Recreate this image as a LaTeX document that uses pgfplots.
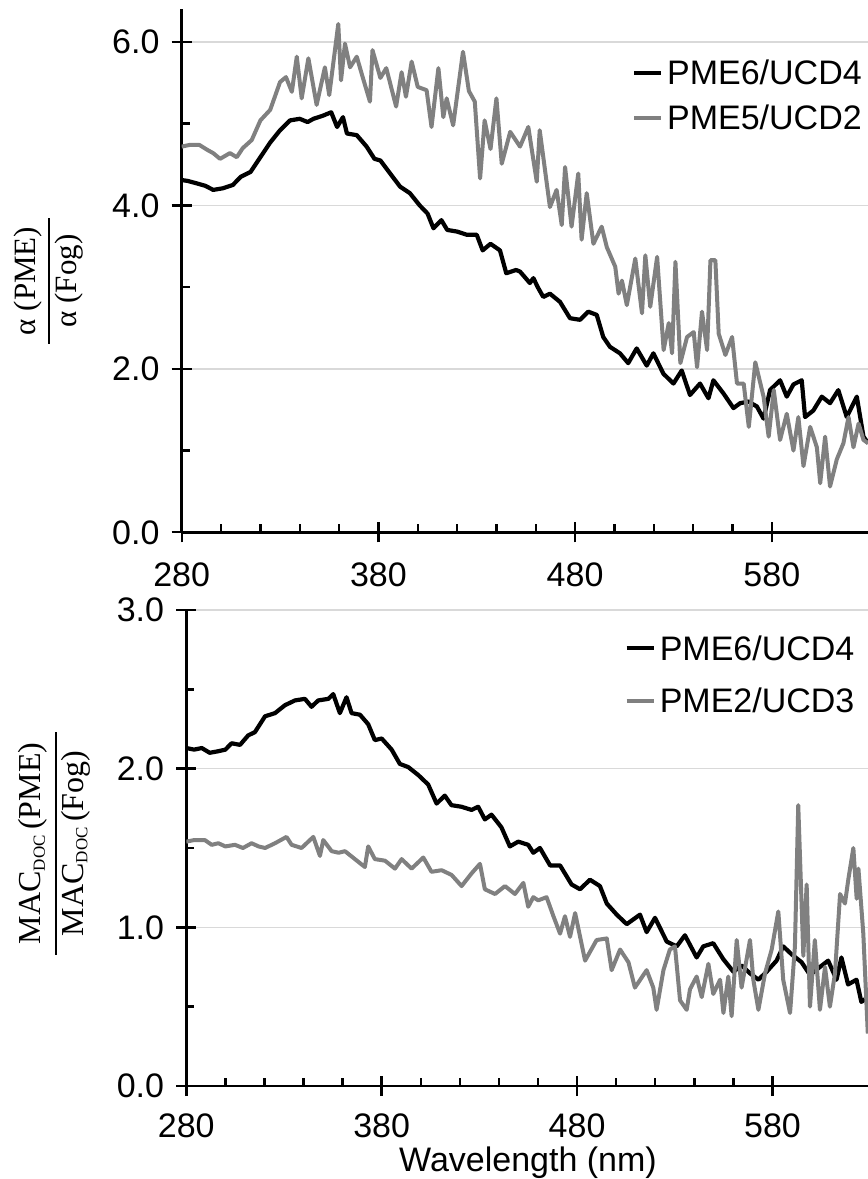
\documentclass[border=0pt]{standalone}
\usepackage{pgfplots}
\pgfplotsset{compat=1.18}
\usepackage{fontspec}
\setmainfont{Liberation Sans}
\newfontfamily\serif{Liberation Serif}
\definecolor{dgray}{RGB}{128,128,128}
\definecolor{gridc}{RGB}{217,217,217}
\pgfplotsset{
 mystyle/.style={
  scale only axis,
  axis x line*=bottom, axis y line*=left,
  axis line style={-, line width=2.6pt},
  xmin=280, xmax=628.9,
  xtick={280,380,480,580}, minor x tick num=4,
  tick align=center,
  major tick length=20pt, minor tick length=8pt,
  every tick/.style={black, line width=2.4pt},
  minor x tick style={yshift=4pt},
  minor y tick style={xshift=4pt},
  ymajorgrids, grid style={gridc, line width=1.5pt},
  tick label style={font=\fontsize{34}{40}\selectfont, text height=24pt, text depth=0pt, inner sep=0pt},
  y tick label style={xshift=-12pt},
  /pgf/number format/assume math mode=true,
  y tick label style={/pgf/number format/fixed, /pgf/number format/fixed zerofill, /pgf/number format/precision=1},
  legend cell align=left,
  legend image code/.code={\draw (0pt,12pt) -- (27pt,12pt);},
 },
 blk/.style={black, line width=4.2pt, line join=round},
 gry/.style={dgray, line width=4pt, line join=round},
}
\begin{document}
\begin{tikzpicture}
\begin{axis}[mystyle, width=686.3pt, height=523pt, at={(181.7pt,646.7pt)}, anchor=south west,
  x tick label style={yshift=-20pt},
  ymin=0, ymax=6.4, ytick={0,2,4,6}, minor y tick num=1,
  legend style={at={(axis cs:508.9,5.77)}, anchor=north west, draw=none, fill=none, inner sep=0pt, outer sep=0pt, row sep=21pt, column sep=0pt,
    /tikz/every odd column/.append style={column sep=4pt},
    nodes={font=\fontsize{34}{40}\selectfont, text height=24pt, text depth=0pt, inner sep=0pt, anchor=base west}}]
\addplot[blk] coordinates {(280,4.31)(283,4.30)(287.6,4.27)(292,4.24)(296,4.19)(301,4.21)(306,4.25)(310,4.35)(315,4.41)(320,4.59)(325,4.77)(330,4.92)(335,5.04)(340,5.06)(344,5.02)(347,5.06)(352,5.10)(356,5.14)(359,4.96)(362,5.08)(364,4.88)(369,4.86)(374,4.72)(378,4.57)(381,4.55)(386,4.39)(391,4.23)(396,4.15)(401,4.00)(405,3.90)(408,3.72)(412,3.82)(415,3.70)(420,3.68)(425,3.64)(430,3.64)(433,3.45)(437,3.53)(441.8,3.45)(445,3.17)(450,3.21)(452,3.19)(457,3.05)(458.8,3.11)(461,3.00)(463.8,2.88)(467.2,2.92)(472.3,2.82)(477.4,2.62)(482.5,2.60)(486.7,2.70)(491,2.66)(494.3,2.39)(497.7,2.27)(502.8,2.19)(507,2.07)(511.3,2.25)(516.4,2.04)(519.8,2.19)(524.9,1.94)(530,1.82)(534.2,1.98)(538.4,1.68)(543.5,1.82)(547.8,1.64)(550.3,1.86)(555.4,1.70)(560.5,1.52)(563.9,1.58)(568.1,1.60)(572.4,1.54)(575.8,1.39)(579.1,1.74)(584.2,1.86)(587.6,1.66)(591,1.81)(595.2,1.86)(596.9,1.41)(601.1,1.49)(605.4,1.66)(609.6,1.58)(613.8,1.74)(618.1,1.41)(623.2,1.66)(626.6,1.17)(629,1.09)};
\addlegendentry{PME6/UCD4}
\addplot[gry] coordinates {(280,4.72)(284,4.74)(289,4.74)(293,4.68)(296,4.64)(299.5,4.57)(304.5,4.64)(308,4.59)(311,4.70)(315.6,4.80)(320,5.04)(325,5.17)(330,5.51)(333,5.57)(336,5.39)(338.5,5.82)(341,5.31)(344.4,5.80)(348.6,5.23)(352.8,5.69)(355,5.35)(359.6,6.22)(361,5.53)(363,5.98)(365.6,5.69)(369,5.82)(372,5.57)(375.7,5.27)(377,5.90)(381,5.56)(384,5.68)(389,5.21)(391.8,5.63)(394,5.33)(396.9,5.76)(400,5.45)(404.5,5.41)(407,4.96)(410.5,5.68)(413,5.08)(414.7,5.31)(418,4.98)(423,5.88)(426,5.40)(429,5.27)(431.7,4.33)(434,5.04)(437,4.69)(440,5.31)(442.7,4.51)(447,4.90)(452,4.72)(456.2,4.96)(460.5,4.29)(462,4.92)(467.2,3.98)(470.6,4.19)(473.2,3.76)(474.9,4.47)(478.2,3.74)(481.6,4.39)(483.3,3.58)(485.9,4.15)(489.3,3.53)(493.5,3.74)(496.1,3.49)(500.4,3.25)(502.1,2.92)(503.8,3.08)(506.3,2.78)(510.6,3.35)(514,2.68)(515.7,3.39)(518.2,2.76)(521.7,3.37)(525,2.23)(527.6,2.56)(529.3,2.19)(531,3.31)(533.5,2.07)(536.9,2.39)(540.3,2.45)(542,2.02)(544.5,2.70)(547.1,2.23)(548.8,3.33)(551.3,3.33)(553,2.43)(556.4,2.17)(559.8,2.39)(562.3,1.82)(565.7,1.82)(568.3,1.29)(571.6,2.08)(575.8,1.66)(578.4,1.17)(581,1.74)(584.2,1.13)(587.6,1.45)(591,1.00)(593.5,1.41)(596.1,0.81)(599.5,1.29)(602.9,1.04)(604.6,0.60)(607.1,1.17)(609.6,0.56)(613,0.89)(616.4,1.09)(619,1.41)(621.5,1.04)(624.1,1.33)(626.6,1.13)(629,1.09)};
\addlegendentry{PME5/UCD2}
\end{axis}
\begin{axis}[mystyle, width=681.7pt, height=476pt, at={(186.3pt,93pt)}, anchor=south west,
  x tick label style={yshift=-17pt},
  ymin=0, ymax=3, ytick={0,1,2,3}, minor y tick num=1,
  legend style={at={(axis cs:504.3,2.835)}, anchor=north west, draw=none, fill=none, inner sep=0pt, outer sep=0pt, row sep=28.6pt, column sep=0pt,
    /tikz/every odd column/.append style={column sep=4pt},
    nodes={font=\fontsize{34}{40}\selectfont, text height=24pt, text depth=0pt, inner sep=0pt, anchor=base west}}]
\addplot[blk] coordinates {(280,2.13)(284,2.12)(287.9,2.13)(292,2.10)(296.4,2.11)(300,2.12)(303.2,2.16)(307.5,2.15)(311.7,2.21)(315.1,2.23)(320.3,2.33)(325.4,2.35)(330.5,2.40)(335.6,2.43)(340.7,2.44)(344.1,2.39)(347.5,2.43)(352.7,2.44)(355.2,2.47)(358.6,2.35)(362,2.45)(364.6,2.35)(368.9,2.34)(373.1,2.28)(376.5,2.18)(380,2.19)(385.1,2.12)(389.3,2.03)(393.6,2.01)(398.7,1.96)(403.8,1.90)(408.1,1.78)(412.3,1.83)(415.7,1.77)(420.8,1.76)(426,1.74)(429.4,1.76)(432.8,1.68)(436.2,1.71)(441.3,1.63)(445.6,1.51)(449.9,1.54)(455,1.52)(457.6,1.47)(461,1.50)(466.2,1.39)(471.3,1.39)(477.2,1.27)(481.5,1.24)(486.6,1.30)(491.7,1.26)(495.2,1.15)(500.3,1.08)(505.4,1.02)(512.2,1.08)(515.6,0.97)(519.9,1.06)(525.9,0.91)(531,0.88)(535.2,0.95)(541.2,0.81)(544.6,0.88)(549.7,0.90)(554.8,0.80)(560,0.72)(564.2,0.76)(568.5,0.71)(572.8,0.67)(577,0.72)(582.1,0.79)(585.5,0.88)(589.8,0.83)(594.9,0.78)(599.2,0.70)(604.3,0.75)(608.5,0.79)(612.8,0.67)(615.3,0.81)(618.7,0.64)(623,0.67)(625.5,0.53)(628.8,0.56)};
\addlegendentry{PME6/UCD4}
\addplot[gry] coordinates {(280,1.54)(284,1.55)(289.5,1.55)(293,1.52)(296.4,1.53)(300,1.51)(304.9,1.52)(309,1.50)(313.4,1.53)(317,1.51)(320.3,1.50)(325.4,1.53)(331.3,1.57)(333.9,1.52)(339,1.50)(345,1.57)(348.4,1.45)(350.1,1.55)(354.4,1.48)(358,1.47)(361.2,1.48)(366.3,1.43)(371.4,1.38)(373.1,1.51)(376.5,1.43)(381.7,1.42)(386.8,1.37)(390.2,1.43)(395.3,1.37)(401.3,1.44)(405.5,1.35)(410.7,1.36)(415.8,1.33)(420.9,1.26)(426,1.34)(430.3,1.40)(432.8,1.24)(438,1.21)(443.1,1.26)(448.2,1.21)(452.5,1.28)(455,1.13)(457.6,1.19)(460.1,1.17)(464.4,1.19)(467.9,1.07)(471.3,0.96)(473.8,1.07)(476.4,0.94)(479,1.09)(484.1,0.79)(490,0.92)(495.2,0.93)(497.7,0.73)(502,0.86)(506.3,0.78)(509.6,0.62)(515.6,0.73)(519,0.62)(520.7,0.48)(524.2,0.73)(527.5,0.86)(530.1,0.88)(532.7,0.54)(536.1,0.48)(537.8,0.61)(541.2,0.69)(543.8,0.56)(547.2,0.77)(549.7,0.58)(553.2,0.67)(554.9,0.46)(557.4,0.69)(559.1,0.44)(561.7,0.92)(564.2,0.62)(568.5,0.92)(570.2,0.67)(572.8,0.48)(576.2,0.71)(579.6,0.86)(583,1.10)(585.5,0.67)(589,0.46)(591.5,0.88)(593.2,1.77)(595.8,0.82)(597.5,1.27)(599.2,0.50)(601.7,0.92)(604.3,0.48)(606.9,0.75)(609.4,0.50)(612,0.71)(614.6,1.21)(617.1,1.15)(618.8,1.30)(621.4,1.50)(623.1,1.18)(624,1.37)(626.5,0.96)(628.8,0.33)};
\addlegendentry{PME2/UCD3}
\end{axis}
\begin{scope}[shift={(48.7pt,898pt)}, rotate=90, transform shape]
  \node[anchor=south, inner sep=0pt, font=\serif\fontsize{31}{37}\selectfont] at (0pt,6pt) {α (PME)};
  \draw[line width=1.8pt] (-63pt,0pt) -- (63pt,0pt);
  \node[anchor=north, inner sep=0pt, font=\serif\fontsize{31}{37}\selectfont] at (0pt,-6pt) {α (Fog)};
\end{scope}
\begin{scope}[shift={(56pt,335.6pt)}, rotate=90, transform shape]
  \node[anchor=south, inner sep=0pt, font=\serif\fontsize{32}{38}\selectfont] at (0pt,8pt) {MAC\raisebox{-4pt}{\fontsize{17}{17}\selectfont DOC}\,(PME)};
  \draw[line width=1.8pt] (-111.5pt,0pt) -- (111.5pt,0pt);
  \node[anchor=north, inner sep=0pt, font=\serif\fontsize{32}{38}\selectfont] at (0pt,-5pt) {MAC\raisebox{-4pt}{\fontsize{17}{17}\selectfont DOC}\,(Fog)};
\end{scope}
\node[font=\fontsize{34}{40}\selectfont, text height=24pt, text depth=0pt, inner sep=0pt] at (528pt,19.5pt) {Wavelength (nm)};
\pgfresetboundingbox
\path[use as bounding box] (0pt,0pt) rectangle (868pt,1179pt);
\end{tikzpicture}
\end{document}
